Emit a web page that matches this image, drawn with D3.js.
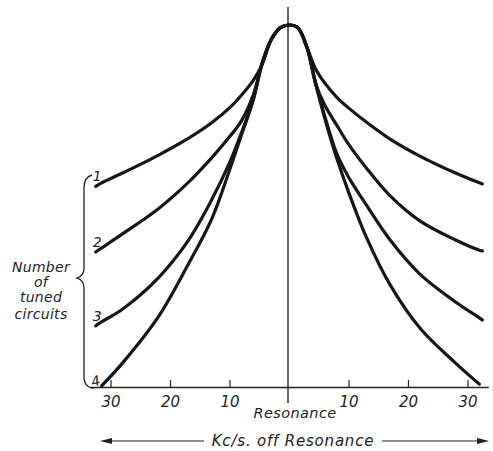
<!DOCTYPE html>
<html>
<head>
<meta charset="utf-8">
<script src="https://cdn.jsdelivr.net/npm/d3@7"></script>
<style>
  body { margin: 0; background: #fff; }
  svg text { font-family: "DejaVu Sans", sans-serif; font-style: italic; fill: #222; }
</style>
</head>
<body>
<svg id="chart"></svg>
<script>
const width = 493;
const height = 451;

// kc/s off resonance (left and right halves)
const offsets = [-32.5, -31.5, -28, -22, -17, -13, -10, -8, -6, -4.5, -3, -1.5, 0,
                 1.5, 3, 4.5, 6, 8, 10, 13, 17, 22, 28, 32, 32.5];
// relative response, peak = 1
const curve1 = [0.554, 0.564, 0.591, 0.640, 0.686, 0.730, 0.771, 0.806, 0.847, 0.891, 0.959, 0.992, 1,
                0.992, 0.939, 0.878, 0.840, 0.801, 0.771, 0.732, 0.685, 0.638, 0.591, 0.564, 0.561];
const curve2 = [0.373, 0.384, 0.423, 0.492, 0.564, 0.633, 0.691, 0.735, 0.807, 0.895, 0.959, 0.992, 1,
                0.992, 0.939, 0.837, 0.779, 0.724, 0.671, 0.605, 0.528, 0.459, 0.406, 0.378, 0.376];
const curve3 = [0.169, 0.180, 0.215, 0.301, 0.403, 0.517, 0.619, 0.702, 0.796, 0.895, 0.959, 0.992, 1,
                0.992, 0.939, 0.837, 0.749, 0.646, 0.580, 0.503, 0.406, 0.312, 0.235, 0.191, 0.185];
const curve4 = [null, 0.003, 0.066, 0.193, 0.337, 0.464, 0.599, 0.696, 0.793, 0.895, 0.959, 0.992, 1,
                0.992, 0.939, 0.837, 0.743, 0.633, 0.539, 0.414, 0.282, 0.163, 0.066, 0.008, null];
const curves = [curve1, curve2, curve3, curve4];
const curveLabels = ["1", "2", "3", "4"];

const tickValues = [-30, -20, -10, 10, 20, 30];
const tickLabels = ["30", "20", "10", "10", "20", "30"];

let svg = d3.select("#chart")
  .attr("width", width)
  .attr("height", height);

const x = d3.scaleLinear().domain([-33.5, 33.5]).range([89.7, 488.3]);
const y = d3.scaleLinear().domain([0, 1]).range([387, 25]);

// axis with upward ticks
const axis = d3.axisBottom(x)
  .tickValues(tickValues)
  .tickFormat((d, i) => tickLabels[i])
  .tickSizeInner(-7)
  .tickSizeOuter(0)
  .tickPadding(9);

const gAxis = svg.append("g")
  .attr("transform", `translate(0,${y(0)})`)
  .call(axis);
gAxis.select(".domain").attr("stroke", "#222").attr("stroke-width", 1.4);
gAxis.selectAll(".tick line").attr("stroke", "#222").attr("stroke-width", 1.2);
gAxis.selectAll(".tick text")
  .style("font-family", "DejaVu Sans, sans-serif")
  .style("font-style", "italic")
  .style("font-size", "15px")
  .attr("fill", "#222");

// resonance line
svg.append("line")
  .attr("x1", x(0) - 1).attr("x2", x(0) - 1)
  .attr("y1", 7).attr("y2", 403)
  .attr("stroke", "#222")
  .attr("stroke-width", 1.4);

// curves
const line = d3.line()
  .defined(d => d[1] != null)
  .x(d => x(d[0]))
  .y(d => y(d[1]))
  .curve(d3.curveCatmullRom.alpha(0.5));

curves.forEach((c, i) => {
  const pts = offsets.map((o, j) => [o, c[j]]);
  svg.append("path")
    .attr("d", line(pts))
    .attr("fill", "none")
    .attr("stroke", "#161616")
    .attr("stroke-width", 3.2)
    .attr("stroke-linecap", "round");

  const first = pts.find(p => p[1] != null);
  const lab = svg.append("text")
    .attr("x", x(first[0]) - 3)
    .attr("y", y(first[1]) - 5)
    .style("font-size", "14px")
    .text(curveLabels[i]);
  if (i === 3) {
    lab.attr("x", 0).attr("y", 0)
      .attr("transform", `translate(${x(first[0]) - 9},${y(first[1]) + 1}) rotate(-15)`);
  }
});

// brace
svg.append("path")
  .attr("d", "M92,175 Q84,177 84,188 L84,268 Q84,276 77,278 Q84,280 84,288 L84,376 Q84,388 94,388")
  .attr("fill", "none")
  .attr("stroke", "#222")
  .attr("stroke-width", 1.3);

const side = ["Number", "of", "tuned", "circuits"];
const sideY = [272, 287, 302, 319];
side.forEach((t, i) => {
  svg.append("text")
    .attr("x", 41)
    .attr("y", sideY[i])
    .attr("text-anchor", "middle")
    .style("font-size", "14px")
    .style("letter-spacing", "0.3px")
    .text(t);
});

svg.append("text")
  .attr("x", x(0) + 6)
  .attr("y", 418)
  .attr("text-anchor", "middle")
  .style("font-size", "14.5px")
  .style("letter-spacing", "0.4px")
  .text("Resonance");

svg.append("text")
  .attr("x", 293)
  .attr("y", 446)
  .attr("text-anchor", "middle")
  .style("font-size", "15px")
  .style("letter-spacing", "0.8px")
  .text("Kc/s. off Resonance");

// arrows
svg.append("line").attr("x1", 104).attr("x2", 204).attr("y1", 441).attr("y2", 441)
  .attr("stroke", "#222").attr("stroke-width", 1.2);
svg.append("line").attr("x1", 382).attr("x2", 482).attr("y1", 441).attr("y2", 441)
  .attr("stroke", "#222").attr("stroke-width", 1.2);
svg.append("polygon").attr("points", "100,441 112,438 112,444").attr("fill", "#222");
svg.append("polygon").attr("points", "489,441 477,438 477,444").attr("fill", "#222");
</script>
</body>
</html>
